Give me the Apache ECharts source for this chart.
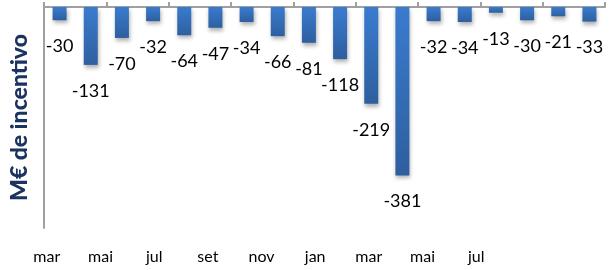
<!DOCTYPE html>
<html>
<head>
<meta charset="utf-8">
<script src="https://cdn.jsdelivr.net/npm/echarts@6/dist/echarts.min.js"></script>
<style>
  html, body { margin: 0; padding: 0; background: #fff; }
  #chart { width: 611px; height: 270px; }
</style>
</head>
<body>
<div id="chart"></div>
<script>
// months, one bar each
const months = ['mar', 'abr', 'mai', 'jun', 'jul', 'ago', 'set', 'out', 'nov', 'dez',
  'jan', 'fev', 'mar', 'abr', 'mai', 'jun', 'jul', 'ago'];
const incentivo = [-30, -131, -70, -32, -64, -47, -34, -66, -81, -118,
  -219, -381, -32, -34, -13, -30, -21, -33];
// labels printed under the plot
const bottomLabels = ['mar', 'mai', 'jul', 'set', 'nov', 'jan', 'mar', 'mai', 'jul'];

const font = 'Lato, "Open Sans", sans-serif';

const chart = echarts.init(document.getElementById('chart'));
chart.setOption({
  animation: false,
  grid: [
    {left: 40, right: 6, top: 7, bottom: 42},
    {left: 20, width: 483, top: 237, height: 8},
  ],
  xAxis: [{
    type: 'category',
    gridIndex: 0,
    position: 'top',
    data: months,
    axisLine: {lineStyle: {color: '#a0a0a0', width: 2}},
    axisTick: {show: true, interval: 1, length: 5, lineStyle: {color: '#a0a0a0', width: 2}},
    axisLabel: {show: false},
  }, {
    type: 'category',
    gridIndex: 1,
    data: bottomLabels,
    axisLine: {show: false},
    axisTick: {show: false},
    axisLabel: {color: '#000', fontFamily: font, fontSize: 16, margin: 4},
  }],
  yAxis: [{
    type: 'value',
    gridIndex: 0,
    min: -500,
    max: 0,
    name: 'M€ de incentivo',
    nameLocation: 'middle',
    nameGap: 13,
    nameTextStyle: {color: '#1a3360', fontFamily: font, fontSize: 23, fontWeight: 900},
    axisLine: {show: true, lineStyle: {color: '#a0a0a0', width: 2}},
    axisTick: {show: false},
    axisLabel: {show: false},
    splitLine: {show: false},
  }, {
    type: 'value',
    gridIndex: 1,
    show: false,
  }],
  series: [{
    type: 'bar',
    data: incentivo,
    barWidth: 14,
    itemStyle: {
      color: new echarts.graphic.LinearGradient(0, 0, 0, 1, [
        {offset: 0, color: '#3a7bcf'},
        {offset: 1, color: '#2e5f9f'},
      ]),
      shadowBlur: 4,
      shadowOffsetY: 3,
      shadowOffsetX: 1,
      shadowColor: 'rgba(0,0,0,0.3)',
    },
    label: {
      show: true,
      position: 'bottom',
      distance: 17,
      color: '#000',
      fontFamily: font,
      fontSize: 18,
    },
  }],
});
</script>
</body>
</html>
